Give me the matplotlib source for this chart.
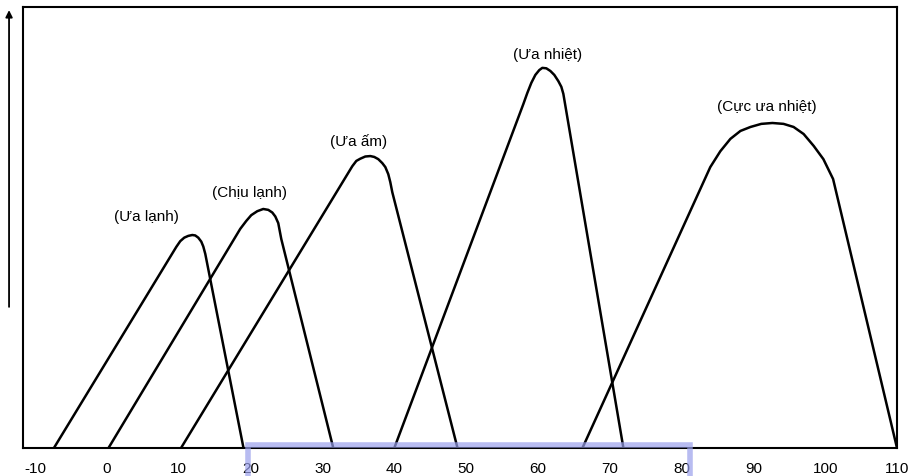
import matplotlib
matplotlib.use("Agg")
import matplotlib.pyplot as plt
from matplotlib.patches import Rectangle

plt.rcParams['font.family'] = ['Liberation Sans', 'DejaVu Sans']

# nhiet do (x) va toc do sinh truong (y), doc tu hinh
x_ua_lanh = [-7.4, 9.64, 10.19, 10.75, 11.31, 11.87, 12.28, 12.7, 13.12, 13.4, 13.68, 19.0]
y_ua_lanh = [0, 45.6, 46.9, 47.7, 48.1, 48.3, 48.2, 47.7, 46.8, 45.7, 44.0, 0]

x_chiu_lanh = [0.2, 18.55, 19.39, 20.08, 20.92, 21.75, 22.45, 23.01, 23.43, 23.84, 24.26, 31.5]
y_chiu_lanh = [0, 49.7, 51.5, 52.8, 53.7, 54.2, 54.0, 53.4, 52.5, 51.0, 47.4, 0]

x_ua_am = [10.3, 34.15, 34.71, 35.26, 35.96, 36.66, 37.21, 37.77, 38.33, 38.75,
           39.16, 39.44, 39.72, 48.8]
y_ua_am = [0, 63.9, 65.1, 65.6, 66.1, 66.2, 66.0, 65.5, 64.6, 63.7,
           62.1, 60.3, 58.0, 0]

x_ua_nhiet = [40.0, 57.97, 58.52, 59.08, 59.64, 60.19, 60.61, 61.17, 61.73, 62.28,
              62.84, 63.26, 63.54, 71.9]
y_ua_nhiet = [0, 78.0, 80.5, 82.8, 84.6, 85.7, 86.2, 86.1, 85.5, 84.6,
              83.2, 81.9, 80.3, 0]

x_cuc_ua_nhiet = [66.2, 84.0, 85.4, 86.8, 88.2, 89.6, 91.1, 92.65, 94.2,
                  95.6, 97.0, 98.4, 99.75, 101.1, 110.0]
y_cuc_ua_nhiet = [0, 63.7, 67.3, 70.1, 71.9, 72.8, 73.5, 73.7, 73.5,
                  72.8, 71.2, 68.5, 65.5, 61.0, 0]

nhan = ['(Ưa lạnh)', '(Chịu lạnh)', '(Ưa ấm)', '(Ưa nhiệt)', '(Cực ưa nhiệt)']
nhan_x = [5.5, 19.9, 35.0, 61.4, 91.9]
nhan_y = [52.6, 58.0, 69.6, 89.3, 77.6]

xticks = [-10, 0, 10, 20, 30, 40, 50, 60, 70, 80, 90, 100, 110]

fig = plt.figure(figsize=(9.14, 4.77), dpi=100)
ax = fig.add_axes([0.0252, 0.0587, 0.9562, 0.9245])

curves = [(x_ua_lanh, y_ua_lanh), (x_chiu_lanh, y_chiu_lanh), (x_ua_am, y_ua_am),
          (x_ua_nhiet, y_ua_nhiet), (x_cuc_ua_nhiet, y_cuc_ua_nhiet)]
for xs, ys in curves:
    ax.plot(xs, ys, color='black', lw=1.8, solid_joinstyle='round', solid_capstyle='round')

for t, tx, ty in zip(nhan, nhan_x, nhan_y):
    ax.text(tx, ty, t, ha='center', va='center', fontsize=11)

ax.set_xlim(-11.7, 110)
ax.set_ylim(0, 100)
ax.set_xticks(xticks)
ax.set_xticklabels([str(v) for v in xticks], fontsize=11)
ax.set_yticks([])
ax.tick_params(axis='x', length=0, pad=9)
for s in ax.spines.values():
    s.set_linewidth(1.5)

# mui ten truc tung
ax.annotate('', xy=(-0.016, 0.993), xytext=(-0.016, 0.32),
            xycoords='axes fraction', textcoords='axes fraction',
            annotation_clip=False,
            arrowprops=dict(arrowstyle='-|>', color='black', lw=1.3,
                            mutation_scale=10, shrinkA=0, shrinkB=0))

# khung hinh mo (watermark)
fig.patches.append(Rectangle((248 / 914, -0.05), (690 - 248) / 914, (477 - 446) / 477 + 0.05,
                             transform=fig.transFigure, fill=False,
                             edgecolor='#9aa0ec', lw=4, alpha=0.7, zorder=5))

fig.savefig('out.png', dpi=100)
